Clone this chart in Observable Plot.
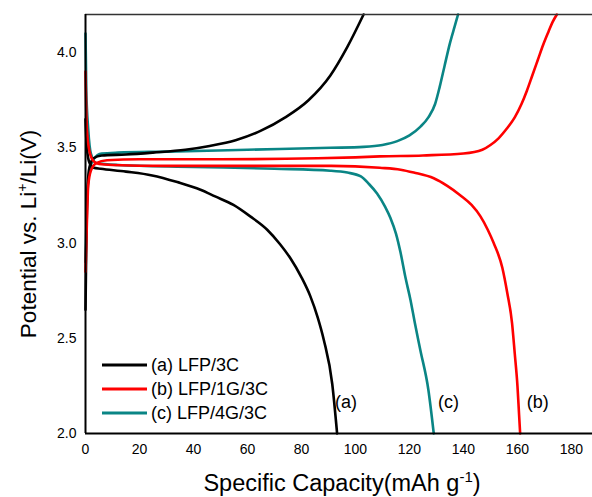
<!DOCTYPE html>
<html><head><meta charset="utf-8">
<script src="https://cdn.jsdelivr.net/npm/d3@7"></script>
<script src="https://cdn.jsdelivr.net/npm/@observablehq/plot@0.6"></script>
<style>
body{margin:0;background:#fff}
#chart{position:relative;width:592px;height:497px;overflow:hidden}
</style>
</head><body><div id="chart"></div>
<script>
// ---- data (specific capacity mAh/g, potential V) ----
const aChargeX = [0, 0.3, 0.8, 1.5, 3, 6, 15, 25, 37, 46, 55.6, 65, 74, 82.6, 90.7, 97, 103];
const aChargeV = [2.65, 3.0, 3.3, 3.4, 3.445, 3.46, 3.465, 3.475, 3.49, 3.51, 3.54, 3.59, 3.66, 3.75, 3.88, 4.03, 4.2];
const aDischX = [0, 0.5, 1.5, 3, 5.6, 15, 24.7, 34, 42.6, 48, 54.8, 61, 67.3, 72, 75.9, 80, 83.3, 86, 88.3, 91.4, 93.2];
const aDischV = [3.65, 3.5, 3.42, 3.395, 3.39, 3.375, 3.355, 3.32, 3.28, 3.245, 3.2, 3.14, 3.07, 2.995, 2.92, 2.82, 2.72, 2.61, 2.49, 2.26, 2.0];

const bChargeX = [0, 0.5, 1, 2, 4, 8, 20, 50, 86, 100, 109, 125, 140, 147, 150, 153, 156, 159, 161.5, 163.5, 165.5, 167.5, 169.5, 171.5, 173, 174.6];
const bChargeV = [2.85, 3.1, 3.3, 3.38, 3.42, 3.435, 3.44, 3.44, 3.445, 3.45, 3.455, 3.46, 3.47, 3.49, 3.515, 3.55, 3.6, 3.66, 3.73, 3.8, 3.88, 3.96, 4.04, 4.11, 4.16, 4.2];
const bDischX = [0, 0.5, 1.5, 3, 5, 10, 30, 60, 91, 109, 116.7, 121.6, 129, 134, 138.9, 143, 146.3, 149, 151.2, 154.4, 156.2, 158, 159, 160, 160.6, 161];
const bDischV = [3.9, 3.6, 3.48, 3.43, 3.415, 3.41, 3.405, 3.405, 3.405, 3.395, 3.385, 3.37, 3.34, 3.3, 3.25, 3.2, 3.14, 3.07, 3.0, 2.87, 2.74, 2.58, 2.42, 2.25, 2.1, 2.0];

const cChargeX = [0, 0.5, 1.5, 3, 6, 12, 30, 60, 90.7, 103, 110, 115.5, 120, 124, 127, 129.5, 131.2, 133, 135, 136.8, 138];
const cChargeV = [2.9, 3.2, 3.38, 3.44, 3.47, 3.475, 3.48, 3.49, 3.5, 3.505, 3.515, 3.535, 3.565, 3.61, 3.66, 3.73, 3.82, 3.93, 4.05, 4.14, 4.2];
const cDischX = [0, 0.3, 1, 2, 4, 12, 40, 70, 90.7, 97, 102, 105, 108, 111, 113, 115, 116.7, 118.5, 120.4, 122, 124, 127, 129];
const cDischV = [4.1, 3.8, 3.6, 3.47, 3.42, 3.41, 3.4, 3.39, 3.38, 3.37, 3.35, 3.31, 3.26, 3.19, 3.13, 3.05, 2.95, 2.82, 2.7, 2.58, 2.44, 2.23, 2.0];

const seriesNames = ["(a) LFP/3C", "(b) LFP/1G/3C", "(c) LFP/4G/3C"];
const seriesColors = ["#000000", "#ff0000", "#0a8585"];
const curveTags = ["(a)", "(c)", "(b)"];
const curveTagX = [96.5, 134.5, 167.5];
const curveTagV = [2.165, 2.165, 2.165];

const xTicks = [0, 20, 40, 60, 80, 100, 120, 140, 160, 180];
const yTicks = [2.0, 2.5, 3.0, 3.5, 4.0];

// ---- build tidy rows ----
function rows(xs, vs, series, branch) {
  return xs.map((x, i) => ({x, v: vs[i], series, id: series + branch}));
}
const dataA = [...rows(aChargeX, aChargeV, seriesNames[0], "c"), ...rows(aDischX, aDischV, seriesNames[0], "d")];
const dataB = [...rows(bChargeX, bChargeV, seriesNames[1], "c"), ...rows(bDischX, bDischV, seriesNames[1], "d")];
const dataC = [...rows(cChargeX, cChargeV, seriesNames[2], "c"), ...rows(cDischX, cDischV, seriesNames[2], "d")];
const tags = curveTags.map((t, i) => ({t, x: curveTagX[i], v: curveTagV[i]}));

const lineOpts = {x: "x", y: "v", z: "id", stroke: "series", strokeWidth: 2.6, curve: "monotone-x"};

const plot = Plot.plot({
  width: 592, height: 497,
  marginLeft: 85, marginRight: 0, marginTop: 14, marginBottom: 64,
  style: {fontFamily: "'Liberation Sans', Arial, sans-serif", fontSize: "14px", background: "white", color: "#000"},
  color: {domain: seriesNames, range: seriesColors},
  x: {domain: [0, 187.8], ticks: xTicks, tickSize: 0, tickPadding: 11, label: null},
  y: {domain: [2.0, 4.2], ticks: yTicks, tickSize: 0, tickPadding: 9, tickFormat: d3.format(".1f"), label: null},
  marks: [
    Plot.line(dataC, lineOpts),
    Plot.line(dataA, lineOpts),
    Plot.line(dataB, lineOpts),
    Plot.ruleY([4.2], {stroke: "#333", strokeWidth: 1.6}),
    Plot.ruleY([2.0], {stroke: "#000", strokeWidth: 2}),
    Plot.ruleX([0], {stroke: "#000", strokeWidth: 2}),
    Plot.text(tags, {x: "x", y: "v", text: "t", fontSize: 18, fill: "#000", textAnchor: "middle"})
  ]
});

const svg = d3.select(plot);
const font = "'Liberation Sans', Arial, sans-serif";

// x title with superscript
const xt = svg.append("text").attr("x", 342).attr("y", 491).attr("text-anchor", "middle")
  .attr("font-family", font).attr("font-size", 23.5).attr("fill", "#000");
xt.append("tspan").text("Specific Capacity(mAh g");
xt.append("tspan").attr("dy", -9).attr("font-size", 15).text("-1");
xt.append("tspan").attr("dy", 9).text(")");

// y title with superscript
const yt = svg.append("text").attr("transform", "translate(36,234) rotate(-90)").attr("text-anchor", "middle")
  .attr("font-family", font).attr("font-size", 22.5).attr("fill", "#000");
yt.append("tspan").text("Potential vs. Li");
yt.append("tspan").attr("dy", -9).attr("font-size", 14).text("+");
yt.append("tspan").attr("dy", 9).text("/Li(V)");

// legend
const lg = svg.append("g").attr("font-family", font).attr("font-size", 18).attr("text-anchor", "start");
seriesNames.forEach((name, i) => {
  const y = 365 + i * 24;
  lg.append("line").attr("x1", 102).attr("x2", 147).attr("y1", y).attr("y2", y)
    .attr("stroke", seriesColors[i]).attr("stroke-width", 3);
  lg.append("text").attr("x", 151).attr("y", y).attr("dy", "0.35em").attr("text-anchor", "start").attr("fill", "#000").text(name);
});

document.getElementById("chart").appendChild(plot);
</script>
</body></html>
